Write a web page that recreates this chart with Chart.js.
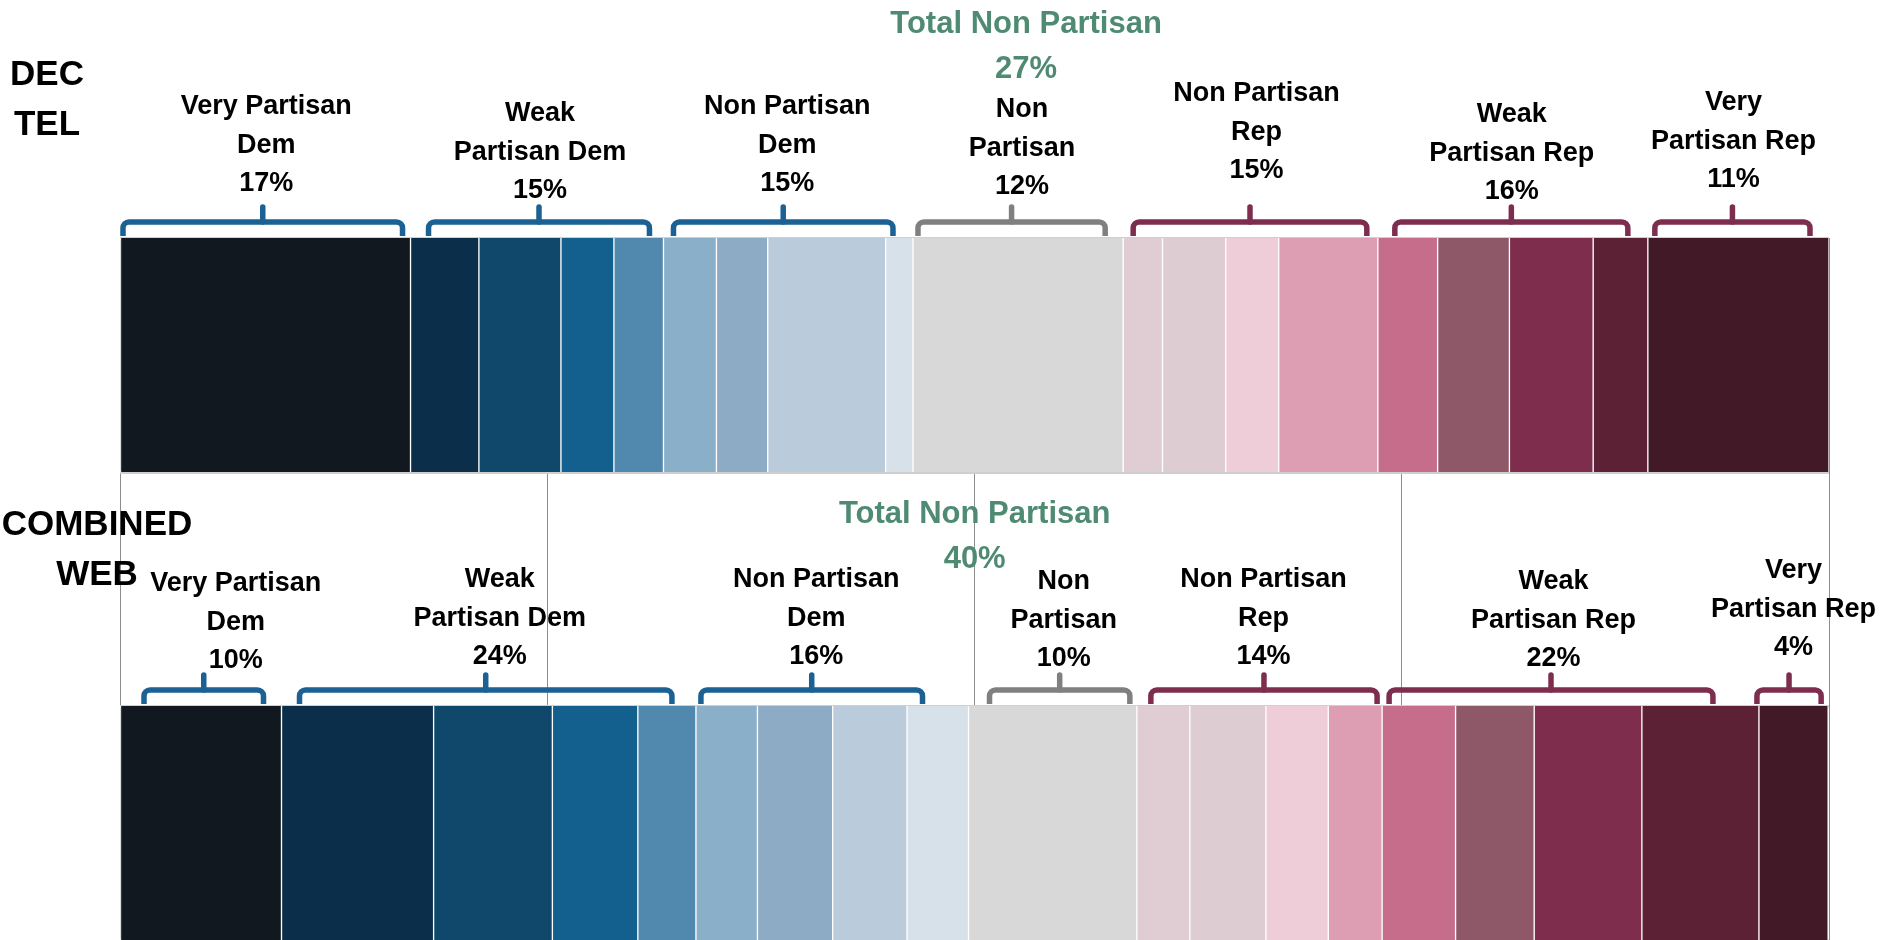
<!DOCTYPE html>
<html lang="en">
<head>
<meta charset="UTF-8">
<title>Partisanship: DEC TEL vs COMBINED WEB</title>
<script src="https://cdn.jsdelivr.net/npm/chart.js"></script>
<style>
    body {
        margin: 0;
        background: #fff;
        overflow: hidden;
        font-family: "Liberation Sans", Arial, sans-serif;
    }
    #wrap {
        position: relative;
        width: 1883px;
        height: 940px;
    }
    #overlay div {
        position: absolute;
        font-weight: bold;
        white-space: pre;
        text-align: center;
        width: 400px;
    }
</style>
</head>
<body>
<div id="wrap">
    <canvas id="chart" width="1883" height="940"></canvas>
    <div id="overlay"></div>
</div>
<script>
    // rows (the two bars)
    const rows = [['DEC', 'TEL'], ['COMBINED', 'WEB']];

    // the 7 groups, each made of some shades
    const groupNames = [
        ['Very Partisan', 'Dem'],
        ['Weak', 'Partisan Dem'],
        ['Non Partisan', 'Dem'],
        ['Non', 'Partisan'],
        ['Non Partisan', 'Rep'],
        ['Weak', 'Partisan Rep'],
        ['Very', 'Partisan Rep']
    ];
    const groupSizes = [1, 4, 4, 1, 4, 4, 1];

    // share of each shade (%), left to right
    const decTelShares = [17.0, 4.0, 4.8, 3.1, 2.9, 3.1, 3.0, 6.9, 1.6, 12.3, 2.3, 3.7, 3.1, 5.8, 3.5, 4.2, 4.9, 3.2, 10.6];
    const combinedWebShares = [9.45, 8.9, 6.95, 5.0, 3.4, 3.6, 4.4, 4.35, 3.6, 9.85, 3.1, 4.45, 3.65, 3.15, 4.3, 4.6, 6.3, 6.85, 4.05];

    // printed group totals (%)
    const decTelTotals = [17, 15, 15, 12, 15, 16, 11];
    const combinedWebTotals = [10, 24, 16, 10, 14, 22, 4];
    const nonPartisanTotals = [27, 40];

    const shadeColors = [
        '#111820', '#0b2f4a', '#10486b', '#13608f', '#5089ad',
        '#8ab0c9', '#8dabc4', '#bacbdb', '#d6e1ea',
        '#d8d8d8',
        '#e0cdd4', '#deccd3', '#eeccd8', '#dd9eb4',
        '#c66d8c', '#8e5868', '#7e2e4c', '#5d2135',
        '#421926'
    ];
    const bracketColors = ['#1b6193', '#1b6193', '#1b6193', '#808080', '#7d2e4e', '#7d2e4e', '#7d2e4e'];
    const green = '#4f8a73';

    // placement tweaks, in px, relative to the bar top / group centre
    const layout = [
        {
            labelDx: [1, 3, -1, 4, 6, -1, -5],
            labelDy: [-123, -116, -123, -120, -136, -115, -127],
            inset: [[3, 8], [18, 14], [10, 20], [5, 18], [10, 11], [17, 20], [7, 19]],
            totalDx: 8, totalDy: -205, titleX: 47, titleDy: -153
        },
        {
            labelDx: [35, 11, -16, 11, 4, -17, 0],
            labelDy: [-114, -118, -118, -116, -118, -116, -127],
            inset: [[24, 18], [18, 24], [5, 46], [21, 7], [14, 5], [7, 46], [-2, 7]],
            totalDx: -78, totalDy: -183, titleX: 97, titleDy: -171
        }
    ];

    const shares = [decTelShares, combinedWebShares];
    const totals = [decTelTotals, combinedWebTotals];

    // a blank category sits between the two bars
    const labels = [rows[0].join(' '), '', rows[1].join(' ')];
    const datasets = shadeColors.map((color, i) => ({
        data: [decTelShares[i], null, combinedWebShares[i]],
        backgroundColor: color,
        borderColor: '#ffffff',
        borderWidth: { top: 0, bottom: 0, left: 1, right: 1 },
        borderSkipped: false,
        barPercentage: 1,
        categoryPercentage: 1
    }));

    function groupEdges(values) {
        const edges = [0];
        let idx = 0, sum = 0;
        groupSizes.forEach(n => {
            for (let k = 0; k < n; k++) sum += values[idx++];
            edges.push(sum);
        });
        return edges;
    }

    function barTop(chart, row) {
        const el = chart.getDatasetMeta(0).data[row * 2];
        return el.y - el.height / 2;
    }

    const bracketPlugin = {
        id: 'brackets',
        afterDatasetsDraw(chart) {
            const ctx = chart.ctx;
            const xs = chart.scales.x;
            rows.forEach((r, row) => {
                const top = barTop(chart, row);
                const edges = groupEdges(shares[row]);
                const yH = top - 16, yEnd = top - 2, yTick = top - 31;
                groupSizes.forEach((n, g) => {
                    const x1 = xs.getPixelForValue(edges[g]) + layout[row].inset[g][0];
                    const x2 = xs.getPixelForValue(edges[g + 1]) - layout[row].inset[g][1];
                    const xm = (x1 + x2) / 2;
                    ctx.save();
                    ctx.strokeStyle = bracketColors[g];
                    ctx.lineWidth = 5.5;
                    ctx.lineJoin = 'round';
                    ctx.beginPath();
                    ctx.moveTo(x1, yEnd);
                    ctx.arcTo(x1, yH, x1 + 8, yH, 6);
                    ctx.arcTo(x2, yH, x2, yEnd, 6);
                    ctx.lineTo(x2, yEnd);
                    ctx.stroke();
                    ctx.lineCap = 'round';
                    ctx.beginPath();
                    ctx.moveTo(xm, yH);
                    ctx.lineTo(xm, yTick);
                    ctx.stroke();
                    ctx.restore();
                });
            });
        }
    };

    const chart = new Chart(document.getElementById('chart'), {
        type: 'bar',
        data: { labels, datasets },
        options: {
            indexAxis: 'y',
            responsive: false,
            animation: false,
            layout: { padding: { left: 120, right: 54, top: 238, bottom: 0 } },
            plugins: { legend: { display: false }, tooltip: { enabled: false } },
            scales: {
                x: {
                    stacked: true, min: 0, max: 100,
                    ticks: { display: false, stepSize: 25 },
                    grid: { color: '#8c8c8c', lineWidth: 1, drawTicks: false },
                    border: { display: false }
                },
                y: {
                    stacked: true,
                    ticks: { display: false },
                    grid: { color: '#cfcfcf', lineWidth: 3, drawTicks: false, offset: true },
                    border: { display: false }
                }
            }
        },
        plugins: [bracketPlugin]
    });

    // text labels as html, placed from the chart's scales
    const overlay = document.getElementById('overlay');
    function addText(lines, cx, baseline, size, lh, color) {
        const d = document.createElement('div');
        d.textContent = lines.join('\n');
        d.style.fontSize = size + 'px';
        d.style.lineHeight = lh + 'px';
        d.style.color = color;
        d.style.left = (cx - 200) + 'px';
        d.style.top = (baseline - (lh / 2 + 0.3465 * size)) + 'px';
        overlay.appendChild(d);
    }

    const xs = chart.scales.x;
    rows.forEach((r, row) => {
        const top = barTop(chart, row);
        const L = layout[row];
        const edges = groupEdges(shares[row]);
        addText(r, L.titleX, top + L.titleDy, 35, 50, '#000');
        groupNames.forEach((name, g) => {
            const cx = (xs.getPixelForValue(edges[g]) + xs.getPixelForValue(edges[g + 1])) / 2;
            addText(name.concat(totals[row][g] + '%'), cx + L.labelDx[g], top + L.labelDy[g], 27, 38.5, '#000');
        });
        const npCenter = (xs.getPixelForValue(edges[3]) + xs.getPixelForValue(edges[4])) / 2;
        addText(['Total Non Partisan', nonPartisanTotals[row] + '%'], npCenter + L.totalDx, top + L.totalDy, 31, 45, green);
    });
</script>
</body>
</html>
